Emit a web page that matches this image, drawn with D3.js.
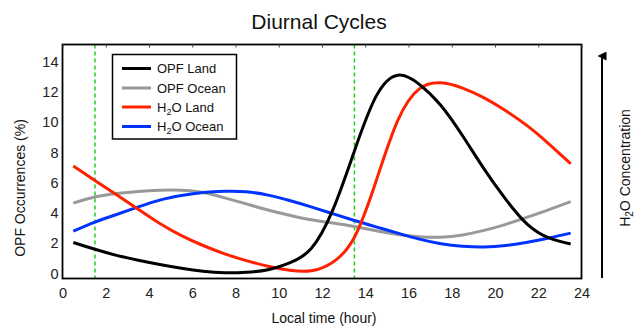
<!DOCTYPE html>
<html>
<head>
<meta charset="utf-8">
<script src="https://cdn.jsdelivr.net/npm/d3@7"></script>
<style>
  html, body { margin: 0; padding: 0; background: #fff; }
  svg { display: block; font-family: "Liberation Sans", Arial, sans-serif; }
</style>
</head>
<body>
<svg id="chart" width="638" height="326"></svg>
<script>
// ---- data ----
const hours = [0.5, 1.5, 2.5, 3.5, 4.5, 5.5, 6.5, 7.5, 8.5, 9.5, 10.5, 11.5,
               12.5, 13.5, 14.5, 15.5, 16.5, 17.5, 18.5, 19.5, 20.5, 21.5, 22.5, 23.5];
const opfLand  = [2.05, 1.6, 1.2, 0.88, 0.6, 0.35, 0.15, 0.05, 0.08, 0.25, 0.7, 1.65,
                  4.2, 8.1, 11.7, 13.1, 12.5, 11.1, 9.1, 6.9, 4.9, 3.25, 2.35, 1.95];
const opfOcean = [4.65, 5.05, 5.28, 5.42, 5.5, 5.5, 5.35, 5.0, 4.6, 4.2, 3.85, 3.55,
                  3.33, 3.1, 2.82, 2.58, 2.43, 2.4, 2.55, 2.85, 3.25, 3.72, 4.22, 4.75];
const h2oLand  = [7.1, 6.15, 5.2, 4.25, 3.3, 2.5, 1.85, 1.3, 0.85, 0.48, 0.22, 0.18,
                  0.75, 2.4, 6.1, 10.1, 12.2, 12.6, 12.25, 11.6, 10.75, 9.75, 8.55, 7.25];
const h2oOcean = [2.8, 3.4, 3.9, 4.4, 4.85, 5.15, 5.35, 5.43, 5.4, 5.18, 4.82, 4.4,
                  3.95, 3.5, 3.08, 2.67, 2.27, 1.97, 1.8, 1.75, 1.85, 2.07, 2.35, 2.67];
const seriesNames  = ["OPF Land", "OPF Ocean", "H₂O Land", "H₂O Ocean"];
const seriesColors = ["#000000", "#999999", "#ff2200", "#0033ff"];
const seriesValues = [opfLand, opfOcean, h2oLand, h2oOcean];
const markerHours = [1.5, 13.5];
const xTicks = [0, 2, 4, 6, 8, 10, 12, 14, 16, 18, 20, 22, 24];
const yTicks = [0, 2, 4, 6, 8, 10, 12, 14];

// ---- layout ----
const svg = d3.select("#chart");
const L = 62.5, R = 581.5, T = 44.5, B = 278.5;
const x = d3.scaleLinear().domain([0, 24]).range([L, R]);
const y = d3.scaleLinear().domain([-0.33, 15.13]).range([B, T]);

// title
svg.append("text").attr("x", 319).attr("y", 29).attr("text-anchor", "middle")
  .attr("font-size", 21).attr("fill", "#111").text("Diurnal Cycles");

// green dashed markers
svg.selectAll("line.mark").data(markerHours).enter().append("line")
  .attr("x1", d => x(d)).attr("x2", d => x(d)).attr("y1", T).attr("y2", B)
  .attr("stroke", "#22cc22").attr("stroke-width", 1.5).attr("stroke-dasharray", "4,3");

// curves
const line = d3.line().x((d, i) => x(hours[i])).y(d => y(d)).curve(d3.curveNatural);
const drawOrder = [1, 3, 2, 0];
drawOrder.forEach(k => {
  svg.append("path").datum(seriesValues[k]).attr("d", line)
    .attr("fill", "none").attr("stroke", seriesColors[k]).attr("stroke-width", 3);
});

// frame
svg.append("rect").attr("x", L).attr("y", T).attr("width", R - L).attr("height", B - T)
  .attr("fill", "none").attr("stroke", "#000").attr("stroke-width", 1.8);

// top inward ticks
const topAxis = svg.append("g").attr("transform", `translate(0,${T})`)
  .call(d3.axisBottom(x).tickValues(xTicks).tickSize(3).tickFormat(""));
topAxis.select(".domain").remove();
topAxis.selectAll("line").attr("stroke", "#444");

// x axis labels
const xa = svg.append("g").attr("transform", `translate(0,${B})`)
  .call(d3.axisBottom(x).tickValues(xTicks).tickSize(0).tickPadding(9));
xa.select(".domain").remove();
xa.selectAll("text").attr("font-size", 14.5).attr("fill", "#222")
  .attr("font-family", "Liberation Sans, Arial, sans-serif");

// y axis labels
const ya = svg.append("g").attr("transform", `translate(${L},0)`)
  .call(d3.axisLeft(y).tickValues(yTicks).tickSize(0).tickPadding(4));
ya.select(".domain").remove();
ya.selectAll("text").attr("font-size", 14.5).attr("fill", "#222")
  .attr("font-family", "Liberation Sans, Arial, sans-serif");

// axis titles
svg.append("text").attr("x", 324).attr("y", 323).attr("text-anchor", "middle")
  .attr("font-size", 14).attr("fill", "#111").text("Local time (hour)");
svg.append("text").attr("transform", "translate(25,188) rotate(-90)")
  .attr("text-anchor", "middle").attr("font-size", 14).attr("fill", "#111")
  .text("OPF Occurrences (%)");

// legend
const lg = svg.append("g");
lg.append("rect").attr("x", 112.5).attr("y", 54.5).attr("width", 124).attr("height", 84.5)
  .attr("fill", "#fff").attr("stroke", "#000").attr("stroke-width", 1.5);
const rowY = [68.5, 88, 107, 126.5];
seriesNames.forEach((name, i) => {
  lg.append("line").attr("x1", 122).attr("x2", 151).attr("y1", rowY[i]).attr("y2", rowY[i])
    .attr("stroke", seriesColors[i]).attr("stroke-width", 3);
  const t = lg.append("text").attr("x", 157).attr("y", rowY[i] + 4.5)
    .attr("font-size", 13).attr("fill", "#111");
  if (name.startsWith("H₂O")) {
    t.append("tspan").text("H");
    t.append("tspan").attr("font-size", 9).attr("dy", 3).text("2");
    t.append("tspan").attr("dy", -3).text("O" + name.slice(3));
  } else {
    t.text(name);
  }
});

// right-side arrow and label
svg.append("defs").append("marker").attr("id", "arr").attr("viewBox", "0 0 10 10")
  .attr("refX", 5).attr("refY", 5).attr("markerWidth", 4.5).attr("markerHeight", 5)
  .attr("orient", "auto").append("path").attr("d", "M0,10 L5,0 L10,10 Z").attr("fill", "#000");
svg.append("line").attr("x1", 602).attr("x2", 602).attr("y1", 278).attr("y2", 56)
  .attr("stroke", "#000").attr("stroke-width", 2).attr("marker-end", "url(#arr)");
const rt = svg.append("text").attr("transform", "translate(630,168) rotate(-90)")
  .attr("text-anchor", "middle").attr("font-size", 14).attr("fill", "#111");
rt.append("tspan").text("H");
rt.append("tspan").attr("font-size", 10).attr("dy", 3).text("2");
rt.append("tspan").attr("dy", -3).text("O Concentration");
</script>
</body>
</html>
